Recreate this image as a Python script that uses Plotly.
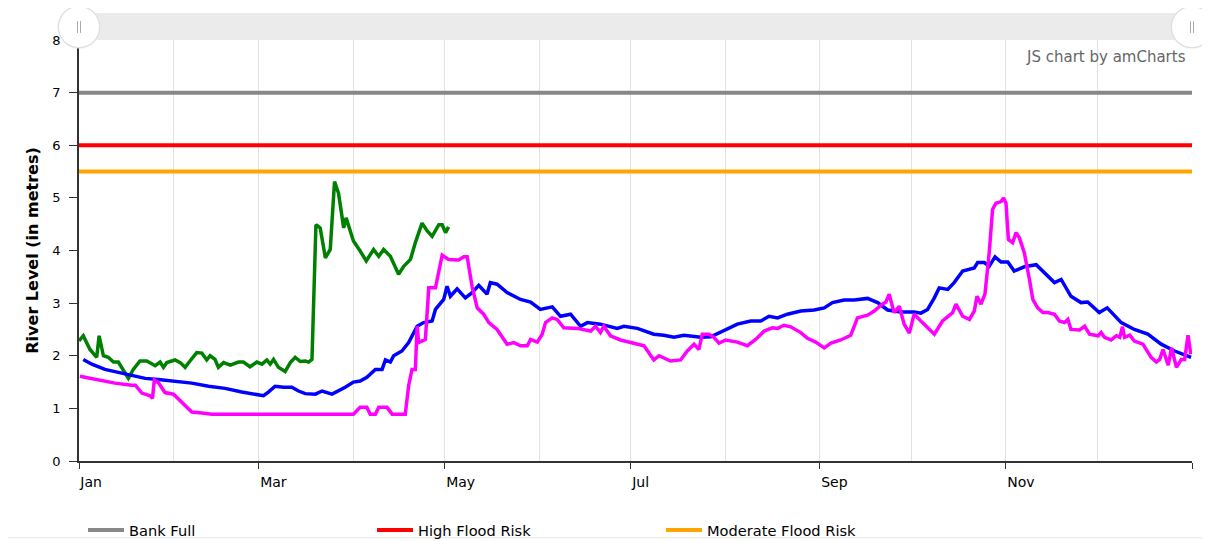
import pandas as pd
import plotly.graph_objects as go

# ---------------- data ----------------
YEAR_START = "2019-01-01"
YEAR_END = "2020-01-01"

tick_dates = ["2019-01-01", "2019-03-01", "2019-05-01", "2019-07-01",
              "2019-09-01", "2019-11-01", "2020-01-01"]
tick_labels = ["Jan", "Mar", "May", "Jul", "Sep", "Nov", ""]

threshold_names = ["Bank Full", "High Flood Risk", "Moderate Flood Risk"]
threshold_levels = [7.0, 6.0, 5.5]
threshold_colors = ["#888888", "#ff0000", "#ffa500"]

# green series (day of year, level in metres)
g_days = [0, 1.4, 3.6, 5.8, 6.6, 8, 9.6, 11.3, 12.9, 14.5, 16.2, 17.8, 20, 22.2, 25,
          26.6, 27.7, 28.8, 31.5, 33.2, 34.8, 36.4, 38.6, 40.3, 41.9, 43, 44.6, 45.7,
          47.4, 49.6, 52.3, 53.9, 56.1, 58.3, 60, 61.6, 62.7, 63.8, 65.4, 67.6, 69.3,
          70.9, 72.6, 74.2, 75.3, 76.4, 77.7, 79.1, 80.8, 82.4, 83.8, 85.1, 86.8, 87.6,
          90, 92.2, 94.2, 96.6, 98.3, 99.9, 102.1, 104.8, 106.5, 108.7, 110.3, 112.5,
          114.2, 115.8, 118, 119.1, 120.2, 121.2]
g_vals = [2.28, 2.38, 2.12, 1.97, 2.38, 2.0, 1.97, 1.88, 1.88, 1.74, 1.57, 1.74, 1.90,
          1.90, 1.81, 1.88, 1.78, 1.87, 1.92, 1.87, 1.78, 1.90, 2.06, 2.05, 1.92, 2.0,
          1.93, 1.78, 1.87, 1.82, 1.88, 1.88, 1.79, 1.88, 1.84, 1.92, 1.84, 1.93, 1.78,
          1.70, 1.87, 1.97, 1.89, 1.90, 1.88, 1.93, 4.49, 4.43, 3.86, 4.02, 5.31, 5.09,
          4.43, 4.62, 4.18, 3.99, 3.80, 4.02, 3.89, 4.02, 3.89, 3.55, 3.70, 3.83, 4.15,
          4.52, 4.37, 4.27, 4.49, 4.49, 4.34, 4.45]

# blue series
b_days = [1.4, 4.2, 8.5, 12.9, 17.3, 21.7, 26, 31.5, 37, 42.5, 47.9, 53.4, 58.3, 60.5,
          62.1, 64.3, 67.1, 69.8, 72, 74.2, 77.5, 79.7, 83, 85.1, 87.3, 90, 92.2, 94.4,
          97.2, 99.4, 100.5, 102.1, 103.2, 105.9, 108.1, 110.9, 113, 115.8, 116.9, 119.6,
          120.7, 121.8, 124, 126.7, 128.9, 131.1, 133.8, 134.9, 137.1, 140.4, 143.1,
          144.8, 148.1, 151.3, 155.2, 157.9, 161.2, 164.5, 166.7, 171, 176.5, 178.7,
          183.1, 188.5, 191.8, 195.1, 198.4, 203.9, 207.2, 211.5, 215.9, 220.3, 223.6,
          226.3, 229.1, 232.3, 236.7, 241.1, 244.4, 247.1, 250.9, 254.2, 258.6, 261.9,
          265.2, 269.5, 273.9, 276.1, 278.3, 280.5, 282.1, 284.9, 287, 289.8, 292, 293.6,
          294.7, 296.9, 298.5, 300.4, 302.4, 304.6, 306.7, 310, 313.9, 316.1, 319.9,
          322.1, 325.3, 328.6, 330.8, 334.6, 337.2, 341.8, 346.1, 350.5, 354.9, 359.3,
          364.7]
b_vals = [1.93, 1.84, 1.74, 1.68, 1.62, 1.57, 1.55, 1.52, 1.48, 1.42, 1.38, 1.31, 1.27,
          1.24, 1.31, 1.42, 1.40, 1.40, 1.33, 1.28, 1.27, 1.33, 1.27, 1.33, 1.40, 1.50,
          1.52, 1.59, 1.74, 1.74, 1.92, 1.88, 2.0, 2.09, 2.25, 2.56, 2.63, 2.66, 2.88,
          3.07, 3.32, 3.13, 3.27, 3.10, 3.20, 3.34, 3.17, 3.39, 3.36, 3.20, 3.12, 3.07,
          3.02, 2.88, 2.93, 2.75, 2.79, 2.56, 2.63, 2.60, 2.52, 2.56, 2.52, 2.41, 2.39,
          2.35, 2.39, 2.35, 2.36, 2.47, 2.60, 2.66, 2.66, 2.75, 2.72, 2.79, 2.85, 2.87,
          2.91, 3.01, 3.06, 3.06, 3.09, 3.01, 2.87, 2.83, 2.83, 2.81, 2.88, 3.10, 3.29,
          3.26, 3.39, 3.61, 3.64, 3.67, 3.77, 3.77, 3.70, 3.88, 3.78, 3.78, 3.61, 3.69,
          3.73, 3.61, 3.39, 3.45, 3.13, 3.01, 3.02, 2.82, 2.91, 2.63, 2.50, 2.41, 2.22,
          2.09, 1.97]

# magenta series
m_days = [0.3, 4.2, 7.5, 11.8, 17.3, 18.5, 20.6, 23.3, 24.1, 24.7, 26, 28.2, 31, 33.7,
          37, 40.3, 43.6, 90, 92.2, 94.4, 95.5, 97.2, 98.3, 101, 102.7, 107, 108.1, 109.2,
          110.3, 110.9, 111.4, 113.6, 114.7, 116.9, 119.1, 121.2, 124.5, 126.2, 127.3,
          128.9, 130.6, 132.7, 134.4, 137.1, 140.4, 142.6, 144.8, 147, 148.1, 150.3,
          151.9, 153, 155.2, 156.8, 159, 163.4, 167.8, 169.4, 171, 172.1, 174.3, 177.6,
          182, 185.3, 188.5, 190.2, 194, 197.3, 199.5, 201.7, 203.3, 204.4, 206.6, 208.2,
          209.9, 212.1, 215.9, 219.2, 221.9, 224.7, 227.4, 229.1, 231.2, 233.4, 236.7,
          238.9, 241.6, 244.4, 246.6, 249.8, 253.1, 255.3, 258.6, 260.8, 263, 264.6,
          265.7, 267.3, 269, 270.6, 272.3, 273.9, 276.6, 280.5, 283.2, 286.5, 287.6,
          289.8, 292, 293.6, 294.5, 295.8, 297.1, 298.5, 299.6, 300.7, 302.4, 303.2, 304,
          304.8, 306.2, 307.3, 308.4, 310, 311.7, 312.8, 314.4, 316.1, 317.7, 319.9,
          321.5, 323.2, 324.3, 325.3, 328.1, 329.8, 331.4, 334.2, 335.2, 336.3, 338.5,
          340.2, 341.3, 342.2, 342.9, 344.6, 346.1, 348.9, 351.6, 353.3, 354.4, 355.5,
          357.2, 358.3, 359.9, 361.5, 362.6, 363.7, 364.6]
m_vals = [1.61, 1.57, 1.52, 1.48, 1.44, 1.44, 1.29, 1.24, 1.19, 1.54, 1.49, 1.30, 1.27,
          1.11, 0.93, 0.91, 0.89, 0.89, 1.02, 1.02, 0.89, 0.89, 1.02, 1.02, 0.89, 0.89,
          1.43, 1.74, 1.74, 2.56, 2.25, 2.31, 3.29, 3.29, 3.91, 3.83, 3.82, 3.88, 3.88,
          3.32, 2.91, 2.79, 2.63, 2.50, 2.22, 2.25, 2.19, 2.19, 2.31, 2.26, 2.41, 2.63,
          2.72, 2.69, 2.53, 2.52, 2.47, 2.56, 2.44, 2.56, 2.38, 2.30, 2.24, 2.19, 1.92,
          2.0, 1.90, 1.92, 2.09, 2.22, 2.12, 2.41, 2.41, 2.35, 2.24, 2.30, 2.26, 2.19,
          2.31, 2.47, 2.53, 2.52, 2.58, 2.55, 2.44, 2.33, 2.26, 2.15, 2.24, 2.30, 2.39,
          2.72, 2.77, 2.85, 2.96, 3.02, 3.17, 2.82, 2.94, 2.60, 2.43, 2.79, 2.63, 2.41,
          2.66, 2.82, 2.98, 2.75, 2.69, 2.85, 3.13, 2.98, 3.17, 3.96, 4.78, 4.90, 4.93,
          5.0, 4.90, 4.21, 4.15, 4.34, 4.24, 3.96, 3.45, 3.07, 2.91, 2.82, 2.82, 2.79,
          2.66, 2.63, 2.69, 2.50, 2.49, 2.56, 2.41, 2.38, 2.44, 2.35, 2.30, 2.38, 2.35,
          2.55, 2.35, 2.39, 2.28, 2.22, 1.97, 1.88, 1.93, 2.12, 1.82, 2.15, 1.78, 1.93,
          1.93, 2.39, 2.03]

series = [
    ("green", g_days, g_vals, "#008000"),
    ("blue", b_days, b_vals, "#0000ff"),
    ("magenta", m_days, m_vals, "#ff00ff"),
]

# ---------------- figure ----------------
base = pd.Timestamp(YEAR_START)


def to_dates(days):
    return base + pd.to_timedelta(days, unit="D")


FONT = "DejaVu Sans"
W, H = 1202, 549            # page body has an 8px margin
ML, MR, MT, MB = 71, 18, 32, 95
PW, PH = W - ML - MR, H - MT - MB

fig = go.Figure()

for name, lvl, col in zip(threshold_names, threshold_levels, threshold_colors):
    fig.add_trace(go.Scatter(
        x=[YEAR_START, YEAR_END], y=[lvl, lvl], mode="lines", name=name,
        line=dict(color=col, width=4), hoverinfo="skip"))

for name, d, v, col in series:
    fig.add_trace(go.Scatter(
        x=to_dates(d), y=v, mode="lines", name=name, showlegend=False,
        line=dict(color=col, width=3.5), hoverinfo="skip"))

month_starts = pd.date_range(YEAR_START, YEAR_END, freq="MS")

fig.update_layout(
    width=W, height=H,
    margin=dict(l=ML, r=MR, t=MT, b=MB),
    paper_bgcolor="white", plot_bgcolor="white",
    font=dict(family=FONT, size=13, color="#000"),
    showlegend=True,
    legend=dict(orientation="h", x=4 / PW, xanchor="left", y=-68 / PH, yanchor="middle",
                entrywidth=238, entrywidthmode="pixels", itemwidth=36,
                font=dict(family=FONT, size=14.6, color="#000"),
                bgcolor="rgba(0,0,0,0)"),
    xaxis=dict(
        type="date", range=[YEAR_START, YEAR_END],
        tickmode="array", tickvals=tick_dates, ticktext=tick_labels,
        ticks="outside", ticklen=6, tickcolor="#333", tickwidth=1,
        ticklabelposition="outside right", ticklabelstandoff=7,
        showline=True, linecolor="#333", linewidth=1.5,
        showgrid=True, gridcolor="#e3e3e3", gridwidth=1,
        minor=dict(tickmode="array", tickvals=list(month_starts), showgrid=True,
                   gridcolor="#e3e3e3", gridwidth=1, ticks=""),
        zeroline=False, fixedrange=True,
        tickfont=dict(family=FONT, size=14, color="#000"),
    ),
    yaxis=dict(
        range=[0, 8], dtick=1, tick0=0,
        ticks="outside", ticklen=8, tickcolor="#333",
        ticklabelstandoff=6,
        showline=True, linecolor="#333", linewidth=1.5,
        showgrid=False, zeroline=False, fixedrange=True,
        tickfont=dict(family=FONT, size=13, color="#000"),
        title=dict(text="River Level (in metres)", standoff=10,
                   font=dict(family=FONT, size=16, color="#000", weight="bold")),
    ),
    annotations=[dict(
        text="JS chart by amCharts", xref="paper", yref="paper", x=1, y=1 - 17 / PH,
        xanchor="right", yanchor="middle", xshift=-4, showarrow=False,
        font=dict(family=FONT, size=15, color="#666"))],
)

# scrollbar decoration above the plot
grip_y = 1 + 13 / PH
shapes = [
    dict(type="rect", xref="paper", yref="paper", x0=0, x1=1, y0=1.0, y1=1 + 27 / PH,
         fillcolor="#ebebeb", line=dict(width=0), layer="above"),
    dict(type="line", xref="paper", yref="paper", x0=-ML / PW, x1=(W - ML) / PW,
         y0=-77 / PH, y1=-77 / PH, line=dict(color="#e6e6e6", width=1)),
]
for gx, gy in [(0, grip_y), (1, grip_y), (1.0, grip_y + 46 / PH)]:
    shapes.append(dict(type="circle", xref="paper", yref="paper",
                       xsizemode="pixel", ysizemode="pixel", xanchor=gx, yanchor=gy,
                       x0=-21.5, x1=21.5, y0=-21.5, y1=21.5,
                       fillcolor="#e4e4e4", line=dict(width=0), layer="above"))
    shapes.append(dict(type="circle", xref="paper", yref="paper",
                       xsizemode="pixel", ysizemode="pixel", xanchor=gx, yanchor=gy,
                       x0=-20.5, x1=20.5, y0=-20.5, y1=20.5,
                       fillcolor="#ffffff", line=dict(color="#dedede", width=1),
                       layer="above"))
for gx in [0, 1]:
    for dx in [-1.5, 1.5]:
        shapes.append(dict(type="line", xref="paper", yref="paper",
                           xsizemode="pixel", ysizemode="pixel", xanchor=gx,
                           yanchor=grip_y, x0=dx, x1=dx, y0=-6, y1=6,
                           line=dict(color="#aaaaaa", width=1), layer="above"))
fig.update_layout(shapes=shapes)

fig.write_html("out.html")
